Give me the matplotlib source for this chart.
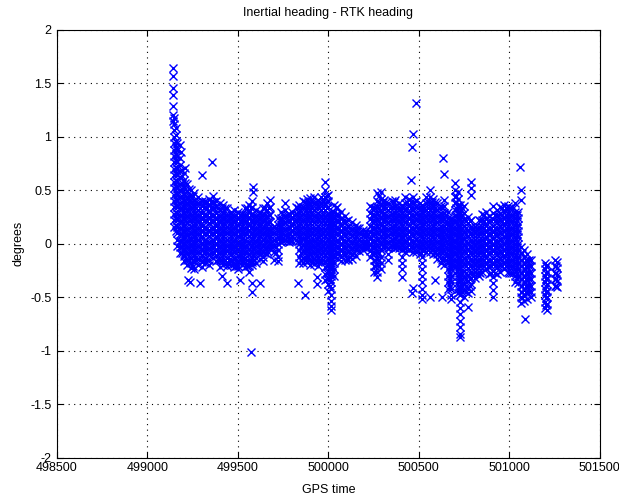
import matplotlib
matplotlib.use("Agg")
import matplotlib.pyplot as plt

plt.rcParams["font.family"] = ["Liberation Sans", "DejaVu Sans"]

# ===== spike right after alignment =====
spike_time = [499141, 499148, 499156, 499165]
spike_deg = [
    [1.64, 1.57, 1.46, 1.39, 1.29, 1.20, 1.15],
    [1.18, 1.12, 1.06, 1.00, 0.94, 0.88, 0.82, 0.76, 0.70, 0.64, 0.58, 0.52, 0.46, 0.40, 0.34, 0.28, 0.22, 0.16],
    [1.08, 1.02, 0.96, 0.90, 0.84, 0.78, 0.72, 0.66, 0.60, 0.54, 0.48, 0.42, 0.36, 0.30, 0.24, 0.18, 0.12],
    [0.94, 0.88, 0.82, 0.76, 0.70, 0.64, 0.58, 0.52, 0.46, 0.40, 0.34, 0.28, 0.22, 0.16, 0.10, 0.04, -0.02],
]

# ===== main band, first part =====
band1_time = [499180, 499200, 499220, 499240, 499260, 499280, 499300, 499320, 499340, 499360,
              499380, 499400, 499420, 499440, 499460, 499480, 499500, 499520, 499540, 499560,
              499580, 499600, 499620, 499640, 499660, 499680, 499700, 499720, 499740, 499760,
              499780, 499800, 499820, 499840, 499860, 499880, 499900, 499920, 499940, 499960]
band1_deg = [
    [0.80, 0.74, 0.68, 0.62, 0.56, 0.50, 0.44, 0.38, 0.33, 0.27, 0.21, 0.15, 0.09, 0.03, -0.03, -0.09],
    [0.66, 0.60, 0.53, 0.47, 0.41, 0.36, 0.30, 0.24, 0.18, 0.12, 0.07, 0.01, -0.05, -0.11, -0.16],
    [0.56, 0.49, 0.43, 0.38, 0.31, 0.26, 0.20, 0.14, 0.08, 0.03, -0.03, -0.09, -0.15, -0.20],
    [0.50, 0.45, 0.39, 0.33, 0.27, 0.22, 0.16, 0.10, 0.05, -0.01, -0.07, -0.13, -0.18, -0.23],
    [0.47, 0.41, 0.35, 0.29, 0.24, 0.18, 0.12, 0.06, 0.00, -0.06, -0.11, -0.17, -0.24],
    [0.44, 0.38, 0.32, 0.27, 0.21, 0.15, 0.09, 0.04, -0.02, -0.08, -0.14, -0.20],
    [0.40, 0.35, 0.29, 0.23, 0.17, 0.12, 0.06, 0.00, -0.06, -0.11, -0.17, -0.22],
    [0.40, 0.34, 0.28, 0.22, 0.16, 0.10, 0.04, -0.01, -0.07, -0.13, -0.18],
    [0.42, 0.36, 0.30, 0.25, 0.19, 0.13, 0.07, 0.02, -0.04, -0.10, -0.15, -0.20],
    [0.45, 0.39, 0.33, 0.27, 0.21, 0.16, 0.10, 0.04, -0.02, -0.08, -0.13],
    [0.40, 0.34, 0.29, 0.23, 0.17, 0.11, 0.06, 0.00, -0.06, -0.11, -0.16],
    [0.38, 0.32, 0.26, 0.21, 0.15, 0.09, 0.03, -0.03, -0.09, -0.15, -0.22],
    [0.36, 0.30, 0.24, 0.18, 0.13, 0.07, 0.01, -0.05, -0.10, -0.16, -0.20],
    [0.33, 0.27, 0.21, 0.16, 0.10, 0.04, -0.02, -0.07, -0.13, -0.18],
    [0.30, 0.24, 0.19, 0.13, 0.07, 0.01, -0.04, -0.10, -0.15, -0.20],
    [0.32, 0.26, 0.20, 0.15, 0.09, 0.03, -0.03, -0.08, -0.14, -0.19, -0.22],
    [0.30, 0.24, 0.18, 0.12, 0.07, 0.01, -0.05, -0.11, -0.16, -0.21, -0.24],
    [0.28, 0.22, 0.17, 0.11, 0.05, -0.01, -0.06, -0.12, -0.17, -0.20],
    [0.33, 0.27, 0.21, 0.15, 0.10, 0.04, -0.02, -0.08, -0.13, -0.18, -0.22],
    [0.36, 0.30, 0.24, 0.18, 0.13, 0.07, 0.01, -0.05, -0.10, -0.16, -0.21, -0.26],
    [0.40, 0.34, 0.28, 0.22, 0.16, 0.10, 0.05, -0.01, -0.07, -0.12, -0.17, -0.20],
    [0.32, 0.26, 0.21, 0.15, 0.09, 0.03, -0.02, -0.08, -0.13, -0.18],
    [0.30, 0.24, 0.18, 0.12, 0.07, 0.01, -0.05, -0.10, -0.14],
    [0.33, 0.27, 0.21, 0.15, 0.09, 0.04, -0.02, -0.08, -0.12, -0.16],
    [0.38, 0.32, 0.26, 0.20, 0.14, 0.08, 0.03, -0.03, -0.07, -0.10],
    [0.41, 0.34, 0.27, 0.20, 0.13, 0.07, 0.01, -0.05],
    [0.16, 0.10, 0.04, -0.02, -0.08, -0.15],
    [0.24, 0.18, 0.12, 0.06, 0.00, -0.06, -0.12, -0.16],
    [0.30, 0.24, 0.18, 0.12, 0.06, 0.02],
    [0.38, 0.32, 0.26, 0.20, 0.14, 0.08, 0.04],
    [0.28, 0.22, 0.16, 0.10, 0.05, 0.02],
    [0.30, 0.24, 0.18, 0.12, 0.06, 0.03],
    [0.34, 0.28, 0.22, 0.16, 0.10, 0.04],
    [0.36, 0.30, 0.24, 0.18, 0.12, 0.06, 0.00, -0.06, -0.12, -0.18],
    [0.40, 0.34, 0.28, 0.22, 0.16, 0.10, 0.05, -0.01, -0.07, -0.13, -0.18],
    [0.42, 0.36, 0.30, 0.24, 0.18, 0.12, 0.06, 0.01, -0.05, -0.11, -0.17],
    [0.43, 0.37, 0.31, 0.25, 0.19, 0.13, 0.08, 0.02, -0.04, -0.10, -0.15, -0.20],
    [0.44, 0.38, 0.32, 0.26, 0.20, 0.14, 0.08, 0.03, -0.03, -0.09, -0.14, -0.19],
    [0.41, 0.35, 0.29, 0.23, 0.17, 0.12, 0.06, 0.00, -0.06, -0.12, -0.17, -0.21],
    [0.44, 0.38, 0.32, 0.26, 0.20, 0.14, 0.08, 0.02, -0.04, -0.10, -0.16],
]

# samples in between the band1 columns
fill1_time = [499190, 499210, 499230, 499250, 499270, 499290, 499310, 499330, 499350, 499370,
              499390, 499410, 499430, 499450, 499470, 499490, 499510, 499530, 499550, 499570,
              499590, 499610, 499630, 499650, 499670, 499690, 499710, 499730, 499750, 499770,
              499790, 499810, 499830, 499850, 499870, 499890, 499910, 499930, 499950, 499970]
fill1_deg = [
    [0.69, 0.63, 0.57, 0.51, 0.45, 0.39, 0.33, 0.27, 0.21, 0.15, 0.09, 0.03, -0.03, -0.09],
    [0.57, 0.51, 0.45, 0.39, 0.33, 0.27, 0.21, 0.15, 0.09, 0.03, -0.03, -0.09, -0.15],
    [0.51, 0.45, 0.39, 0.33, 0.27, 0.21, 0.15, 0.09, 0.03, -0.03, -0.09, -0.15],
    [0.45, 0.39, 0.33, 0.27, 0.21, 0.15, 0.09, 0.03, -0.03, -0.09, -0.15, -0.21],
    [0.39, 0.33, 0.27, 0.21, 0.15, 0.09, 0.03, -0.03, -0.09, -0.15],
    [0.39, 0.33, 0.27, 0.21, 0.15, 0.09, 0.03, -0.03, -0.09, -0.15],
    [0.39, 0.33, 0.27, 0.21, 0.15, 0.09, 0.03, -0.03, -0.09, -0.15],
    [0.39, 0.33, 0.27, 0.21, 0.15, 0.09, 0.03, -0.03, -0.09, -0.15],
    [0.39, 0.33, 0.27, 0.21, 0.15, 0.09, 0.03, -0.03, -0.09],
    [0.39, 0.33, 0.27, 0.21, 0.15, 0.09, 0.03, -0.03, -0.09],
    [0.33, 0.27, 0.21, 0.15, 0.09, 0.03, -0.03, -0.09, -0.15],
    [0.33, 0.27, 0.21, 0.15, 0.09, 0.03, -0.03, -0.09, -0.15],
    [0.33, 0.27, 0.21, 0.15, 0.09, 0.03, -0.03, -0.09, -0.15],
    [0.27, 0.21, 0.15, 0.09, 0.03, -0.03, -0.09, -0.15],
    [0.27, 0.21, 0.15, 0.09, 0.03, -0.03, -0.09, -0.15],
    [0.27, 0.21, 0.15, 0.09, 0.03, -0.03, -0.09, -0.15, -0.21],
    [0.27, 0.21, 0.15, 0.09, 0.03, -0.03, -0.09, -0.15],
    [0.27, 0.21, 0.15, 0.09, 0.03, -0.03, -0.09, -0.15],
    [0.33, 0.27, 0.21, 0.15, 0.09, 0.03, -0.03, -0.09, -0.15, -0.21],
    [0.33, 0.27, 0.21, 0.15, 0.09, 0.03, -0.03, -0.09, -0.15],
    [0.27, 0.21, 0.15, 0.09, 0.03, -0.03, -0.09, -0.15],
    [0.27, 0.21, 0.15, 0.09, 0.03, -0.03, -0.09],
    [0.27, 0.21, 0.15, 0.09, 0.03, -0.03, -0.09],
    [0.33, 0.27, 0.21, 0.15, 0.09, 0.03, -0.03, -0.09],
    [0.33, 0.27, 0.21, 0.15, 0.09, 0.03, -0.03],
    [0.15, 0.09, 0.03, -0.03],
    [0.15, 0.09, 0.03, -0.03, -0.09],
    [0.21, 0.15, 0.09, 0.03],
    [0.27, 0.21, 0.15, 0.09, 0.03],
    [0.27, 0.21, 0.15, 0.09, 0.03],
    [0.27, 0.21, 0.15, 0.09, 0.03],
    [0.27, 0.21, 0.15, 0.09],
    [0.33, 0.27, 0.21, 0.15, 0.09, 0.03],
    [0.33, 0.27, 0.21, 0.15, 0.09, 0.03, -0.03, -0.09, -0.15],
    [0.39, 0.33, 0.27, 0.21, 0.15, 0.09, 0.03, -0.03, -0.09, -0.15],
    [0.39, 0.33, 0.27, 0.21, 0.15, 0.09, 0.03, -0.03, -0.09, -0.15],
    [0.39, 0.33, 0.27, 0.21, 0.15, 0.09, 0.03, -0.03, -0.09, -0.15],
    [0.39, 0.33, 0.27, 0.21, 0.15, 0.09, 0.03, -0.03, -0.09, -0.15],
    [0.39, 0.33, 0.27, 0.21, 0.15, 0.09, 0.03, -0.03, -0.09, -0.15],
    [0.39, 0.33, 0.27, 0.21, 0.15, 0.09, 0.03, -0.03, -0.09, -0.15],
]

# ===== main band, middle part =====
band2_time = [499980, 500000, 500015, 500030, 500050, 500070, 500090, 500110, 500130, 500150,
              500170, 500190, 500210, 500230, 500250, 500270, 500290, 500310, 500330, 500350,
              500370, 500390, 500405, 500425, 500445, 500465, 500485, 500505, 500520, 500540,
              500560, 500580, 500600, 500620, 500640]
band2_deg = [
    [0.58, 0.50, 0.44, 0.38, 0.32, 0.26, 0.20, 0.14, 0.08, 0.02, -0.04, -0.10, -0.16, -0.22, -0.28, -0.34],
    [0.46, 0.40, 0.34, 0.28, 0.22, 0.16, 0.10, 0.04, -0.02, -0.08, -0.14, -0.20, -0.26, -0.32, -0.38, -0.44],
    [0.30, 0.24, 0.18, 0.12, 0.06, 0.00, -0.06, -0.12, -0.18, -0.24, -0.30, -0.36, -0.42, -0.48, -0.53, -0.58, -0.62],
    [0.36, 0.30, 0.24, 0.18, 0.12, 0.06, 0.00, -0.06, -0.12, -0.18, -0.24, -0.30],
    [0.34, 0.28, 0.22, 0.16, 0.10, 0.04, -0.02, -0.08, -0.13],
    [0.30, 0.24, 0.18, 0.12, 0.06, 0.00, -0.06, -0.12, -0.16],
    [0.26, 0.20, 0.14, 0.08, 0.02, -0.04, -0.10, -0.15],
    [0.22, 0.16, 0.10, 0.04, -0.02, -0.08, -0.14, -0.15],
    [0.20, 0.14, 0.08, 0.02, -0.04, -0.10, -0.14],
    [0.18, 0.12, 0.06, 0.00, -0.06, -0.11],
    [0.15, 0.10, 0.04, -0.02, -0.07],
    [0.13, 0.08, 0.02, -0.03, -0.06],
    [0.12, 0.07, 0.01, -0.04],
    [0.35, 0.29, 0.23, 0.17, 0.11, 0.05, -0.01, -0.07, -0.12],
    [0.33, 0.27, 0.21, 0.15, 0.09, 0.03, -0.03, -0.09, -0.15, -0.21, -0.26],
    [0.47, 0.40, 0.34, 0.28, 0.22, 0.16, 0.10, 0.04, -0.02, -0.08, -0.14, -0.20, -0.26, -0.31],
    [0.48, 0.42, 0.36, 0.30, 0.24, 0.18, 0.12, 0.06, 0.00, -0.06, -0.12, -0.18, -0.24],
    [0.41, 0.35, 0.29, 0.23, 0.17, 0.11, 0.05, -0.01],
    [0.38, 0.32, 0.26, 0.20, 0.14, 0.08, 0.02, -0.04, -0.10, -0.15],
    [0.40, 0.34, 0.28, 0.22, 0.16, 0.10, 0.04, -0.02],
    [0.41, 0.35, 0.29, 0.23, 0.17, 0.11, 0.05, -0.01, -0.04],
    [0.38, 0.32, 0.26, 0.20, 0.14, 0.08, 0.02, -0.04],
    [0.36, 0.30, 0.24, 0.18, 0.12, 0.06, 0.00, -0.06, -0.12, -0.18, -0.24, -0.31],
    [0.44, 0.38, 0.32, 0.26, 0.20, 0.14, 0.08, 0.02, -0.04, -0.08],
    [0.42, 0.36, 0.30, 0.24, 0.18, 0.12, 0.06, 0.00, -0.06],
    [0.44, 0.38, 0.32, 0.26, 0.20, 0.14, 0.08, 0.02, -0.04, -0.08],
    [0.40, 0.34, 0.28, 0.22, 0.16, 0.10, 0.04, -0.02, -0.08],
    [0.38, 0.32, 0.26, 0.20, 0.14, 0.08, 0.02, -0.04, -0.10],
    [0.36, 0.30, 0.24, 0.18, 0.12, 0.06, 0.00, -0.06, -0.12, -0.18, -0.24, -0.30, -0.36, -0.42, -0.48, -0.52],
    [0.44, 0.38, 0.32, 0.26, 0.20, 0.14, 0.08, 0.02, -0.04, -0.08],
    [0.50, 0.44, 0.38, 0.32, 0.26, 0.20, 0.14, 0.08, 0.02, -0.04, -0.08],
    [0.42, 0.36, 0.30, 0.24, 0.18, 0.12, 0.06, 0.00, -0.06, -0.10],
    [0.38, 0.32, 0.26, 0.20, 0.14, 0.08, 0.02, -0.04, -0.10, -0.14],
    [0.35, 0.29, 0.23, 0.17, 0.11, 0.05, -0.01, -0.07, -0.13, -0.18],
    [0.41, 0.35, 0.29, 0.23, 0.17, 0.11, 0.05, -0.01, -0.07, -0.13, -0.20],
]

fill2_time = [499990, 500007, 500022, 500040, 500060, 500080, 500100, 500120, 500140, 500160,
              500180, 500200, 500220, 500240, 500260, 500280, 500300, 500320, 500340, 500360,
              500380, 500397, 500415, 500435, 500455, 500475, 500495, 500512, 500530, 500550,
              500570, 500590, 500610, 500630, 500650]
fill2_deg = [
    [0.45, 0.39, 0.33, 0.27, 0.21, 0.15, 0.09, 0.03, -0.03, -0.09, -0.15, -0.21, -0.27, -0.33],
    [0.27, 0.21, 0.15, 0.09, 0.03, -0.03, -0.09, -0.15, -0.21, -0.27, -0.33, -0.39],
    [0.27, 0.21, 0.15, 0.09, 0.03, -0.03, -0.09, -0.15, -0.21, -0.27],
    [0.33, 0.27, 0.21, 0.15, 0.09, 0.03, -0.03, -0.09],
    [0.27, 0.21, 0.15, 0.09, 0.03, -0.03, -0.09],
    [0.21, 0.15, 0.09, 0.03, -0.03, -0.09],
    [0.21, 0.15, 0.09, 0.03, -0.03, -0.09],
    [0.15, 0.09, 0.03, -0.03, -0.09],
    [0.15, 0.09, 0.03, -0.03, -0.09],
    [0.15, 0.09, 0.03, -0.03],
    [0.09, 0.03, -0.03],
    [0.09, 0.03, -0.03],
    [0.09, 0.03, -0.03],
    [0.33, 0.27, 0.21, 0.15, 0.09, 0.03, -0.03, -0.09],
    [0.33, 0.27, 0.21, 0.15, 0.09, 0.03, -0.03, -0.09, -0.15, -0.21],
    [0.45, 0.39, 0.33, 0.27, 0.21, 0.15, 0.09, 0.03, -0.03, -0.09, -0.15, -0.21],
    [0.39, 0.33, 0.27, 0.21, 0.15, 0.09, 0.03, -0.03],
    [0.39, 0.33, 0.27, 0.21, 0.15, 0.09, 0.03, -0.03],
    [0.33, 0.27, 0.21, 0.15, 0.09, 0.03, -0.03],
    [0.39, 0.33, 0.27, 0.21, 0.15, 0.09, 0.03, -0.03],
    [0.33, 0.27, 0.21, 0.15, 0.09, 0.03, -0.03],
    [0.33, 0.27, 0.21, 0.15, 0.09, 0.03, -0.03],
    [0.33, 0.27, 0.21, 0.15, 0.09, 0.03, -0.03],
    [0.39, 0.33, 0.27, 0.21, 0.15, 0.09, 0.03, -0.03],
    [0.39, 0.33, 0.27, 0.21, 0.15, 0.09, 0.03, -0.03],
    [0.39, 0.33, 0.27, 0.21, 0.15, 0.09, 0.03, -0.03],
    [0.33, 0.27, 0.21, 0.15, 0.09, 0.03, -0.03],
    [0.33, 0.27, 0.21, 0.15, 0.09, 0.03, -0.03, -0.09],
    [0.33, 0.27, 0.21, 0.15, 0.09, 0.03, -0.03],
    [0.39, 0.33, 0.27, 0.21, 0.15, 0.09, 0.03, -0.03],
    [0.39, 0.33, 0.27, 0.21, 0.15, 0.09, 0.03, -0.03],
    [0.39, 0.33, 0.27, 0.21, 0.15, 0.09, 0.03, -0.03, -0.09],
    [0.33, 0.27, 0.21, 0.15, 0.09, 0.03, -0.03, -0.09],
    [0.33, 0.27, 0.21, 0.15, 0.09, 0.03, -0.03, -0.09, -0.15],
    [0.27, 0.21, 0.15, 0.09, 0.03, -0.03, -0.09, -0.15],
]

# ===== main band, last part and tail clusters =====
band3_time = [500660, 500680, 500700, 500715, 500730, 500750, 500770, 500790, 500810, 500830,
              500850, 500870, 500890, 500910, 500930, 500950, 500970, 500990, 501010, 501030,
              501050, 501065, 501080, 501100, 501120, 501195, 501210, 501250, 501265]
band3_deg = [
    [0.30, 0.24, 0.18, 0.12, 0.06, 0.00, -0.06, -0.12, -0.18, -0.24, -0.30, -0.36, -0.42],
    [0.24, 0.18, 0.12, 0.06, 0.00, -0.06, -0.12, -0.18, -0.24, -0.30, -0.36, -0.42, -0.48, -0.52],
    [0.57, 0.50, 0.44, 0.38, 0.32, 0.26, 0.20, 0.14, 0.08, 0.02, -0.04, -0.10, -0.16, -0.22, -0.27],
    [0.48, 0.42, 0.36, 0.30, 0.24, 0.18, 0.12, 0.06, 0.00, -0.06, -0.12, -0.18, -0.24, -0.30, -0.36, -0.42, -0.46],
    [0.36, 0.30, 0.24, 0.18, 0.12, 0.06, 0.00, -0.06, -0.12, -0.18, -0.24, -0.30, -0.36, -0.42, -0.48, -0.54,
     -0.60, -0.66, -0.72, -0.78, -0.84, -0.87],
    [0.35, 0.29, 0.23, 0.17, 0.11, 0.05, -0.01, -0.07, -0.13, -0.19, -0.25, -0.31, -0.37, -0.43, -0.50],
    [0.25, 0.19, 0.13, 0.07, 0.01, -0.05, -0.11, -0.17, -0.23, -0.29, -0.35, -0.41, -0.46],
    [0.58, 0.52, 0.46, 0.22, 0.16, 0.10, 0.04, -0.02, -0.08, -0.14, -0.20, -0.26, -0.32, -0.38, -0.44],
    [0.16, 0.10, 0.04, -0.02, -0.08, -0.14, -0.20, -0.26, -0.32],
    [0.22, 0.16, 0.10, 0.04, -0.02, -0.08, -0.14, -0.20, -0.26, -0.30],
    [0.28, 0.22, 0.16, 0.10, 0.04, -0.02, -0.08, -0.14, -0.20, -0.26],
    [0.30, 0.24, 0.18, 0.12, 0.06, 0.00, -0.06, -0.12, -0.18, -0.24],
    [0.26, 0.20, 0.14, 0.08, 0.02, -0.04, -0.10, -0.16, -0.22, -0.28],
    [0.35, 0.29, 0.23, 0.17, 0.11, 0.05, -0.01, -0.07, -0.13, -0.19, -0.25, -0.31, -0.37, -0.43, -0.50],
    [0.32, 0.26, 0.20, 0.14, 0.08, 0.02, -0.04, -0.10, -0.16, -0.22, -0.28],
    [0.34, 0.28, 0.22, 0.16, 0.10, 0.04, -0.02, -0.08, -0.14, -0.20, -0.26],
    [0.36, 0.30, 0.24, 0.18, 0.12, 0.06, 0.00, -0.06, -0.12, -0.18, -0.24],
    [0.35, 0.29, 0.23, 0.17, 0.11, 0.05, -0.01, -0.07, -0.13, -0.19, -0.26],
    [0.33, 0.27, 0.21, 0.15, 0.09, 0.03, -0.03, -0.09, -0.15, -0.21, -0.27],
    [0.38, 0.30, 0.24, 0.18, 0.12, 0.06, 0.00, -0.06, -0.12, -0.18, -0.24, -0.30, -0.36],
    [0.30, 0.24, 0.18, 0.12, 0.06, 0.00, -0.06, -0.12, -0.18, -0.24, -0.30, -0.37],
    [-0.03, -0.09, -0.15, -0.21, -0.27, -0.33, -0.39, -0.45, -0.50, -0.55],
    [-0.06, -0.12, -0.18, -0.24, -0.30, -0.36, -0.42, -0.48, -0.53],
    [-0.10, -0.16, -0.22, -0.28, -0.34, -0.40, -0.46, -0.52],
    [-0.15, -0.21, -0.27, -0.33, -0.39, -0.45, -0.50],
    [-0.18, -0.24, -0.30, -0.36, -0.42, -0.48, -0.54, -0.60],
    [-0.20, -0.26, -0.32, -0.38, -0.44, -0.50, -0.56, -0.62],
    [-0.15, -0.21, -0.27, -0.33, -0.39],
    [-0.17, -0.23, -0.29, -0.35, -0.40],
]

fill3_time = [500670, 500690, 500707, 500722, 500740, 500760, 500780, 500800, 500820, 500840,
              500860, 500880, 500900, 500920, 500940, 500960, 500980, 501000, 501020, 501040,
              501072, 501090, 501110, 501202, 501257]
fill3_deg = [
    [0.21, 0.15, 0.09, 0.03, -0.03, -0.09, -0.15, -0.21, -0.27, -0.33, -0.39],
    [0.21, 0.15, 0.09, 0.03, -0.03, -0.09, -0.15, -0.21],
    [0.45, 0.39, 0.33, 0.27, 0.21, 0.15, 0.09, 0.03, -0.03, -0.09, -0.15, -0.21],
    [0.33, 0.27, 0.21, 0.15, 0.09, 0.03, -0.03, -0.09, -0.15, -0.21, -0.27, -0.33, -0.39, -0.45],
    [0.33, 0.27, 0.21, 0.15, 0.09, 0.03, -0.03, -0.09, -0.15, -0.21, -0.27, -0.33, -0.39, -0.45],
    [0.21, 0.15, 0.09, 0.03, -0.03, -0.09, -0.15, -0.21, -0.27, -0.33, -0.39, -0.45],
    [0.21, 0.15, 0.09, 0.03, -0.03, -0.09, -0.15, -0.21, -0.27, -0.33, -0.39],
    [0.15, 0.09, 0.03, -0.03, -0.09, -0.15, -0.21, -0.27],
    [0.15, 0.09, 0.03, -0.03, -0.09, -0.15, -0.21, -0.27],
    [0.21, 0.15, 0.09, 0.03, -0.03, -0.09, -0.15, -0.21, -0.27],
    [0.27, 0.21, 0.15, 0.09, 0.03, -0.03, -0.09, -0.15, -0.21],
    [0.21, 0.15, 0.09, 0.03, -0.03, -0.09, -0.15, -0.21],
    [0.21, 0.15, 0.09, 0.03, -0.03, -0.09, -0.15, -0.21, -0.27],
    [0.27, 0.21, 0.15, 0.09, 0.03, -0.03, -0.09, -0.15, -0.21, -0.27],
    [0.27, 0.21, 0.15, 0.09, 0.03, -0.03, -0.09, -0.15, -0.21],
    [0.33, 0.27, 0.21, 0.15, 0.09, 0.03, -0.03, -0.09, -0.15, -0.21],
    [0.33, 0.27, 0.21, 0.15, 0.09, 0.03, -0.03, -0.09, -0.15, -0.21],
    [0.33, 0.27, 0.21, 0.15, 0.09, 0.03, -0.03, -0.09, -0.15, -0.21, -0.27],
    [0.33, 0.27, 0.21, 0.15, 0.09, 0.03, -0.03, -0.09, -0.15, -0.21, -0.27],
    [0.27, 0.21, 0.15, 0.09, 0.03, -0.03, -0.09, -0.15, -0.21, -0.27, -0.33],
    [-0.09, -0.15, -0.21, -0.27, -0.33, -0.39, -0.45, -0.51],
    [-0.15, -0.21, -0.27, -0.33, -0.39, -0.45],
    [-0.15, -0.21, -0.27, -0.33, -0.39, -0.45],
    [-0.21, -0.27, -0.33, -0.39, -0.45, -0.51, -0.57],
    [-0.21, -0.27, -0.33, -0.39],
]

# ===== isolated points =====
outlier_time = [499180, 499185, 499207, 499301, 499356, 499224, 499235, 499290, 499410, 499439,
                499439, 499511, 499577, 499577, 499575, 499583, 499583, 499622, 499832, 499870,
                499937, 499937, 500462, 500467, 500457, 500460, 500467, 500483, 500561, 500588,
                500627, 500633, 500638, 500774, 501058, 501062, 501062, 501086]
outlier_deg = [0.92, 0.86, 0.71, 0.64, 0.76, -0.34, -0.36, -0.37, -0.30, -0.21,
               -0.37, -0.34, -0.37, -0.45, -1.01, 0.53, 0.48, -0.37, -0.37, -0.48,
               -0.31, -0.38, -0.46, -0.41, 0.60, 0.90, 1.03, 1.32, -0.50, -0.34,
               -0.50, 0.80, 0.65, -0.59, 0.72, 0.50, 0.41, -0.70]


def expand(times, cols):
    xs, ys = [], []
    for t, col in zip(times, cols):
        for v in col:
            xs.append(t)
            ys.append(v)
    return xs, ys


gps_time, heading_err = [], []
for times, cols in [(spike_time, spike_deg), (band1_time, band1_deg), (fill1_time, fill1_deg),
                    (band2_time, band2_deg), (fill2_time, fill2_deg),
                    (band3_time, band3_deg), (fill3_time, fill3_deg)]:
    xs, ys = expand(times, cols)
    gps_time += xs
    heading_err += ys
gps_time += outlier_time
heading_err += outlier_deg

fig = plt.figure(figsize=(6.19, 4.96), dpi=100)
ax = fig.add_axes([0.092, 0.077, 0.877, 0.863])

ax.plot(gps_time, heading_err, "x", color="blue", markersize=5.5, markeredgewidth=1.0)

ax.set_xlim(498500, 501500)
ax.set_ylim(-2, 2)
ax.set_xticks([498500, 499000, 499500, 500000, 500500, 501000, 501500])
ax.set_yticks([-2, -1.5, -1, -0.5, 0, 0.5, 1, 1.5, 2])
ax.set_yticklabels(["-2", "-1.5", "-1", "-0.5", "0", "0.5", "1", "1.5", "2"])
ax.ticklabel_format(axis="x", style="plain", useOffset=False)

ax.grid(True, color="black", linestyle=(0, (1, 4)), linewidth=0.8)
ax.tick_params(direction="in", top=True, right=True, labelsize=9, length=4)
ax.tick_params(axis="x", pad=3)
ax.tick_params(axis="y", pad=4)
for sp in ax.spines.values():
    sp.set_linewidth(0.8)

ax.set_title("Inertial heading - RTK heading", fontsize=9, pad=10)
ax.set_xlabel("GPS time", fontsize=9, labelpad=7)
ax.set_ylabel("degrees", fontsize=9, labelpad=4)

fig.savefig("out.png", dpi=100)
